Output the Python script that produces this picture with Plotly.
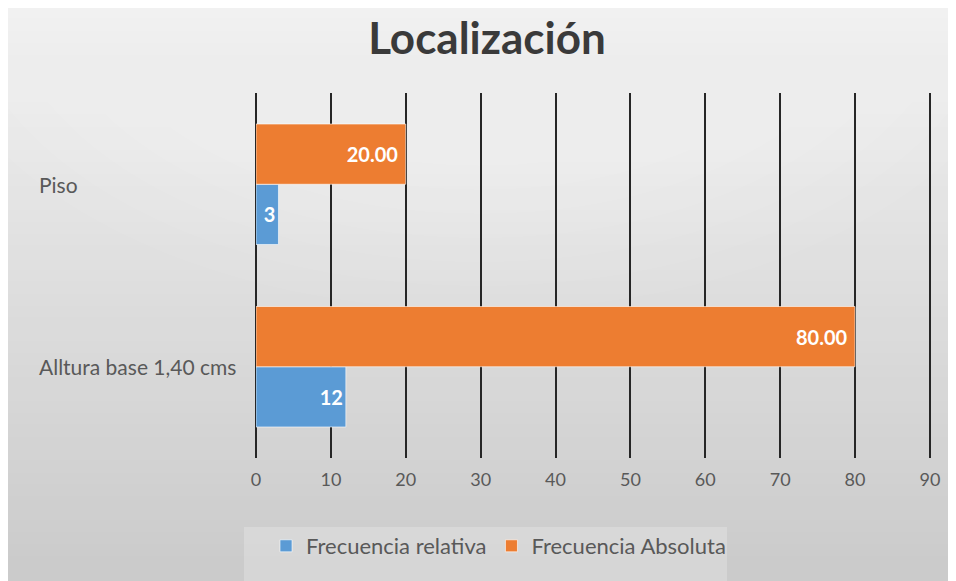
'''
    Horizontal grouped bar chart: Localización.
'''

import plotly.graph_objects as go

categories = ['Alltura base 1,40 cms', 'Piso']
frecuencia_relativa = [12, 3]
frecuencia_absoluta = [80.00, 20.00]
x_ticks = [0, 10, 20, 30, 40, 50, 60, 70, 80, 90]

FONT = 'Lato'
TEXT_GRAY = '#595959'
BLUE = '#5B9BD5'
ORANGE = '#ED7D31'

# the page puts the figure 8px from the top-left corner of the window
OFF = 8
W, H = 956 - OFF, 581 - OFF
L, R, T, B = 256 - OFF, 956 - 931, 93 - OFF, 581 - 458
PW, PH = W - L - R, H - T - B


def px_x(p):
    '''Window pixel x -> paper coordinate.'''
    return (p - OFF - L) / PW


def px_y(p):
    '''Window pixel y -> paper coordinate.'''
    return (H - B - (p - OFF)) / PH


fig = go.Figure()

fig.add_trace(go.Bar(
    y=categories, x=frecuencia_relativa, orientation='h',
    name='Frecuencia relativa',
    marker=dict(color=BLUE, line=dict(color='rgba(255,255,255,0.6)', width=1)),
    texttemplate='%{x}', textposition='inside', insidetextanchor='end',
    textfont=dict(family=FONT, size=20, color='white', weight='bold'),
))
fig.add_trace(go.Bar(
    y=categories, x=frecuencia_absoluta, orientation='h',
    name='Frecuencia Absoluta',
    marker=dict(color=ORANGE, line=dict(color='rgba(255,255,255,0.6)', width=1)),
    texttemplate='%{x:.2f} ', textposition='inside', insidetextanchor='end',
    textfont=dict(family=FONT, size=20, color='white', weight='bold'),
))

# background gradient (light at top to gray at bottom)
shapes = []
n = 48
for i in range(n):
    y0 = OFF + (581 - OFF) * i / n
    y1 = OFF + (581 - OFF) * (i + 1) / n
    t = i / (n - 1)
    c = int(241 - (241 - 203) * t)
    shapes.append(dict(
        type='rect', xref='paper', yref='paper', layer='below',
        x0=px_x(OFF), x1=px_x(956), y0=px_y(y1), y1=px_y(y0) + 0.003,
        fillcolor=f'rgb({c},{c},{c})', line=dict(width=0),
    ))
# soft highlight near the top centre
for k in range(12):
    rx = 560 - k * 40
    ry = 330 - k * 24
    shapes.append(dict(
        type='circle', xref='paper', yref='paper', layer='below',
        x0=px_x(480 - rx), x1=px_x(480 + rx), y0=px_y(-20 + ry), y1=px_y(-20 - ry),
        fillcolor='rgba(255,255,255,0.05)', line=dict(width=0),
    ))
# legend backdrop
shapes.append(dict(
    type='rect', xref='paper', yref='paper', layer='below',
    x0=px_x(244), x1=px_x(727), y0=px_y(581), y1=px_y(527),
    fillcolor='rgba(255,255,255,0.22)', line=dict(width=0),
))

annotations = [
    dict(text=c, xref='paper', yref='y', x=px_x(37), y=c, xanchor='left',
         yanchor='middle', showarrow=False,
         font=dict(family=FONT, size=21, color=TEXT_GRAY))
    for c in categories
]

fig.update_layout(
    width=W, height=H,
    margin=dict(l=L, r=R, t=T, b=B),
    paper_bgcolor='#e4e4e4',
    plot_bgcolor='rgba(0,0,0,0)',
    barmode='group',
    bargap=0.34,
    bargroupgap=0,
    title=dict(text='<b>Localización</b>', x=(487 - OFF) / W, xanchor='center',
               y=1 - (39 - OFF) / H, yanchor='middle',
               font=dict(family=FONT, size=44, color='#3a3a3a')),
    legend=dict(orientation='h', x=px_x(266), xanchor='left',
                y=px_y(546), yanchor='middle', bgcolor='rgba(0,0,0,0)',
                font=dict(family=FONT, size=22, color=TEXT_GRAY),
                traceorder='normal', itemwidth=30),
    shapes=shapes,
    annotations=annotations,
    showlegend=True,
)

fig.update_xaxes(
    range=[0, 90.15], tickvals=x_ticks, showgrid=True,
    gridcolor='#262626', gridwidth=2,
    zeroline=True, zerolinecolor='#262626', zerolinewidth=2,
    showline=False, ticks='', ticklabelstandoff=9,
    tickfont=dict(family=FONT, size=18, color=TEXT_GRAY),
)
fig.update_yaxes(
    range=[-0.5, 1.5], showticklabels=False, showgrid=False,
    zeroline=False, showline=False, ticks='',
)

fig.write_html('out.html')
